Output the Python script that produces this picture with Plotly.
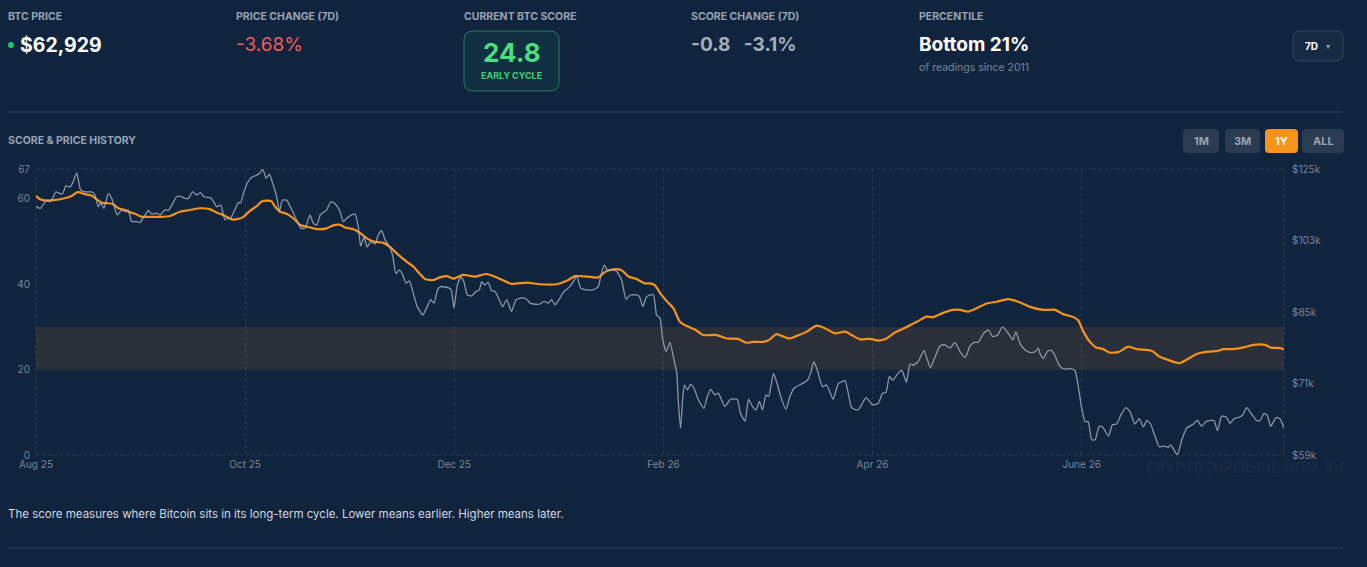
import numpy as np
import plotly.graph_objects as go

# =============================================================================
# Data
# =============================================================================
# x = days since the start of the 1Y window, price in $k, score 0-67
price_days = [
    0, 1.2, 3.1, 4.3, 5.8, 7.0, 7.8, 8.7, 9.9, 10.7, 11.9, 13.0, 14.3, 16.2, 17.2, 18.2, 18.9,
    19.8, 21.1, 22.1, 23.7, 25.0, 26.0, 26.9, 27.9, 29.4, 30.3, 31.5, 32.8, 33.7, 35.2, 36.2,
    37.6, 38.6, 39.9, 41.0, 42.0, 43.5, 44.4, 45.7, 46.9, 48.0, 49.0, 50.3, 51.2, 52.7, 53.9,
    55.1, 56.1, 56.8, 58.0, 59.0, 59.7, 60.5, 61.6, 62.9, 64.4, 65.3, 66.1, 66.8, 67.1, 68.1,
    68.7, 70.2, 71.0, 71.9, 73.1, 74.6, 76.0, 77.2, 78.5, 78.9, 79.9, 80.9, 81.9, 82.9, 83.8,
    84.8, 86.0, 87.2, 88.7, 89.6, 91.1, 93.0, 94.0, 94.7, 95.7, 96.6, 97.6, 98.9, 99.8, 100.8,
    101.8, 103.1, 104.0, 105.0, 106.0, 107.0, 107.9, 108.9, 109.9, 111.2, 112.8, 114.1, 115.1,
    116.1, 117.1, 118.0, 119.3, 121.0, 121.9, 122.9, 123.9, 124.8, 125.8, 127.1, 128.3, 129.3,
    130.0, 130.9, 131.9, 132.9, 133.9, 135.1, 136.1, 137.3, 138.7, 140.0, 141.7, 143.1, 144.1,
    145.1, 147.0, 148.2, 149.4, 150.4, 151.4, 152.6, 154.0, 155.7, 156.7, 157.7, 158.9, 160.6,
    162.4, 164.0, 164.7, 165.7, 166.6, 168.2, 169.4, 170.8, 172.1, 173.3, 175.2, 176.0, 177.0,
    177.9, 179.1, 180.1, 181.0, 182.0, 182.8, 183.8, 184.9, 185.9, 186.9, 187.3, 188.0, 188.6,
    189.1, 190.0, 190.9, 191.9, 193.2, 194.8, 195.8, 196.8, 198.0, 199.0, 200.9, 202.6, 204.5,
    205.5, 206.8, 207.8, 208.7, 210.0, 211.0, 211.9, 212.9, 213.7, 215.1, 216.0, 217.2, 218.7,
    219.9, 221.1, 223.3, 225.0, 225.9, 226.9, 227.9, 229.4, 230.6, 232.5, 234.0, 235.0, 236.0,
    236.9, 237.9, 239.8, 242.1, 244.0, 245.7, 246.9, 247.9, 248.9, 249.9, 251.5, 252.5, 253.2,
    253.9, 254.9, 255.9, 257.3, 259.0, 260.0, 260.9, 262.2, 263.7, 265.1, 266.6, 268.0, 269.5,
    271.0, 272.4, 273.6, 274.8, 276.5, 277.8, 279.0, 280.4, 281.9, 283.6, 284.9, 285.8, 287.0,
    288.5, 290.0, 291.4, 292.4, 292.8, 293.8, 295.0, 296.0, 296.9, 298.7, 300.1, 301.6, 303.0,
    304.0, 305.0, 306.0, 306.9, 307.9, 308.9, 310.1, 311.1, 312.8, 314.0, 315.2, 316.4, 317.9,
    319.1, 320.5, 321.8, 323.0, 324.0, 325.1, 326.1, 327.6, 329.0, 330.3, 330.9, 331.9, 332.9,
    334.2, 335.6, 337.6, 338.7, 340.0, 341.2, 342.6, 343.6, 344.6, 345.8, 347.1, 348.3, 349.4,
    350.7, 351.9, 353.1, 354.3, 356.0, 357.0, 358.2, 359.1, 360.1, 361.7, 362.8, 364.0,
]
price_k = [
    113.4, 112.7, 115.2, 114.7, 117.7, 117.2, 117.2, 119.6, 119.2, 120.6, 123.7, 118.3, 117.7,
    117.7, 116.7, 113.2, 114.4, 112.7, 117.2, 115.7, 110.8, 112.3, 111.8, 112.3, 108.9, 108.9,
    108.6, 110.3, 112.1, 111.1, 111.3, 110.8, 112.3, 112.1, 114.2, 116.2, 116.4, 115.7, 115.7,
    117.7, 116.7, 117.5, 116.2, 116.0, 115.7, 113.2, 113.7, 109.4, 109.9, 109.9, 112.3, 114.4,
    114.4, 117.2, 120.4, 122.3, 123.0, 123.7, 124.9, 123.0, 122.0, 123.3, 121.5, 116.2, 111.8,
    115.2, 115.2, 112.3, 109.4, 107.0, 107.0, 107.9, 110.8, 108.4, 107.9, 110.8, 111.5, 112.3,
    114.7, 114.2, 111.8, 108.9, 110.2, 111.1, 107.4, 102.1, 104.5, 101.8, 103.3, 102.7, 105.1,
    106.3, 103.8, 102.0, 99.7, 95.0, 95.9, 94.6, 92.6, 93.2, 90.6, 87.1, 85.2, 87.1, 88.7,
    87.9, 91.0, 91.8, 91.7, 91.2, 86.8, 92.2, 94.1, 93.0, 89.8, 89.6, 90.6, 91.0, 93.0, 92.2,
    92.8, 90.8, 90.6, 88.7, 87.1, 88.7, 86.0, 88.7, 89.1, 88.8, 87.9, 87.7, 87.7, 88.3, 87.9,
    88.7, 87.5, 88.8, 90.6, 91.8, 93.0, 94.4, 91.4, 91.0, 91.0, 91.8, 94.3, 97.2, 95.9, 95.9,
    95.5, 93.4, 88.8, 89.8, 89.8, 89.4, 87.1, 89.1, 89.8, 89.8, 85.2, 84.5, 79.8, 77.4, 79.3,
    76.3, 73.1, 68.2, 63.3, 68.2, 70.9, 70.0, 71.0, 70.3, 68.2, 66.7, 68.8, 70.1, 69.1, 69.4,
    67.0, 68.3, 68.3, 65.8, 64.5, 68.3, 67.3, 66.4, 67.9, 66.4, 69.1, 68.8, 73.1, 71.5, 68.8,
    66.5, 68.8, 70.3, 71.1, 71.8, 73.1, 75.4, 73.7, 70.6, 70.9, 68.3, 71.2, 71.5, 71.7, 69.4,
    66.8, 66.4, 68.6, 67.3, 67.6, 69.4, 69.5, 72.5, 71.8, 73.2, 73.7, 72.6, 71.4, 74.9, 74.7,
    75.4, 77.6, 75.7, 74.2, 76.3, 78.6, 78.8, 78.1, 79.3, 77.4, 76.2, 78.5, 79.3, 79.3, 81.3,
    81.9, 80.5, 80.8, 82.6, 81.2, 79.8, 81.5, 79.1, 77.7, 77.2, 77.4, 78.1, 77.0, 76.0, 77.4,
    77.7, 77.0, 74.4, 73.9, 74.0, 73.7, 70.6, 66.7, 64.4, 64.4, 61.4, 61.4, 63.6, 63.5, 62.0,
    63.9, 64.0, 65.5, 66.8, 66.1, 64.0, 64.9, 63.5, 64.6, 64.0, 62.4, 60.3, 60.4, 60.2, 60.6,
    59.8, 59.0, 61.4, 63.3, 64.0, 64.6, 63.6, 64.4, 64.6, 64.6, 62.9, 65.3, 65.2, 64.1, 64.9,
    65.1, 65.5, 66.8, 65.9, 64.6, 64.6, 65.8, 65.5, 63.6, 65.1, 64.9, 63.3,
]

score_days = [
    0, 1.2, 3.1, 5.1, 8.0, 10.4, 12.1, 14.3, 16.2, 17.7, 19.2, 20.6, 22.4, 24.0, 26.0, 26.9,
    28.9, 30.8, 33.2, 36.2, 39.1, 42.0, 44.9, 47.8, 50.7, 52.7, 54.6, 57.1, 59.0, 60.5, 62.4,
    64.4, 65.8, 67.5, 68.7, 69.7, 71.2, 73.1, 75.1, 77.0, 78.9, 80.9, 82.8, 84.8, 86.7, 88.7,
    90.1, 92.6, 94.0, 96.4, 98.4, 101.3, 103.3, 105.7, 108.1, 110.1, 112.0, 113.5, 115.9,
    117.8, 119.8, 121.7, 124.6, 128.0, 131.4, 134.4, 138.7, 143.1, 147.0, 151.9, 154.8, 157.2,
    160.6, 164.0, 166.0, 168.4, 170.8, 172.8, 175.2, 177.6, 179.1, 180.5, 182.0, 183.9, 185.9,
    187.8, 189.8, 192.2, 194.6, 198.5, 201.4, 204.8, 207.1, 209.2, 212.1, 214.1, 215.8, 217.5,
    219.7, 221.9, 224.8, 227.7, 230.1, 233.0, 236.0, 237.9, 240.3, 243.2, 245.7, 248.1, 250.5,
    253.5, 256.9, 259.8, 261.7, 264.6, 267.5, 269.5, 271.9, 274.4, 277.3, 280.2, 283.6, 286.5,
    289.9, 293.8, 297.2, 299.6, 302.6, 304.0, 305.5, 307.4, 309.2, 311.3, 313.1, 315.7, 318.6,
    321.0, 325.4, 327.8, 330.8, 333.5, 335.6, 338.7, 341.9, 344.8, 346.3, 349.2, 352.1, 355.1,
    358.5, 360.4, 362.4, 364.0,
]
score = [
    60.7, 59.9, 59.6, 59.7, 60.1, 60.7, 61.6, 61.1, 60.8, 59.9, 59.1, 59.0, 58.8, 57.8, 57.4,
    57.0, 56.5, 55.8, 55.8, 55.8, 56.0, 57.0, 57.4, 57.8, 57.6, 56.8, 56.2, 55.2, 55.3, 55.8,
    57.2, 58.3, 59.4, 59.6, 59.4, 58.2, 57.0, 56.5, 55.4, 53.9, 53.5, 53.1, 52.9, 53.1, 53.8,
    53.9, 53.3, 52.9, 52.3, 50.8, 50.0, 49.7, 48.7, 46.9, 45.3, 44.1, 42.4, 41.2, 41.0, 41.6,
    41.9, 41.3, 42.2, 41.8, 42.4, 41.6, 40.1, 40.4, 40.0, 40.0, 40.8, 41.9, 41.8, 41.6, 42.9,
    43.5, 43.3, 41.8, 41.2, 40.2, 40.2, 39.8, 38.0, 36.1, 34.4, 31.2, 30.2, 29.4, 28.1, 28.1,
    27.3, 27.2, 26.3, 26.5, 26.5, 27.1, 28.3, 27.9, 27.3, 27.9, 28.9, 30.3, 29.7, 28.5, 28.9,
    28.1, 27.1, 27.2, 26.8, 27.3, 28.7, 29.8, 31.2, 32.4, 32.3, 33.3, 34.0, 34.0, 33.6, 34.4,
    35.5, 35.9, 36.5, 35.9, 34.7, 34.0, 34.0, 33.0, 32.3, 31.5, 28.9, 26.5, 25.2, 24.8, 24.0,
    24.1, 25.4, 24.8, 24.4, 23.0, 22.1, 21.5, 22.3, 23.7, 24.2, 24.4, 24.8, 24.8, 25.2, 25.8,
    25.8, 25.1, 25.1, 24.8,
]

month_ticks = [0, 61, 122, 183, 244, 305]
month_labels = ["Aug 25", "Oct 25", "Dec 25", "Feb 26", "Apr 26", "June 26"]
score_ticks = [0, 20, 40, 60, 67]
price_labels = ["$59k", "$71k", "$85k", "$103k", "$125k"]
early_band = [20, 30]

# =============================================================================
# Styling helpers
# =============================================================================
W, H = 1367, 567
BG = "#10243e"
ORANGE = "#f7931a"
LABEL = "#98a3b3"
MUTED = "#7b8698"
FONT = "Inter, Roboto, sans-serif"


def px(x):
    return x / W


def py(y):
    return 1 - y / H


def text(x, y, s, size, color, bold=False, anchor="left"):
    if bold:
        s = f"<b>{s}</b>"
    if anchor == "left":
        x -= 2  # annotations carry a small inner padding
    return dict(x=px(x), y=py(y), xref="paper", yref="paper", text=s, showarrow=False,
                xanchor=anchor, yanchor="middle", font=dict(size=size, color=color, family=FONT))


def rounded(x0, y0, x1, y1, r, fill, line=None, width=1):
    a, b, c, d = px(x0), px(x1), py(y0), py(y1)
    rx, ry = r / W, r / H
    path = (f"M {a + rx},{c} L {b - rx},{c} Q {b},{c} {b},{c - ry} L {b},{d + ry} "
            f"Q {b},{d} {b - rx},{d} L {a + rx},{d} Q {a},{d} {a},{d + ry} "
            f"L {a},{c - ry} Q {a},{c} {a + rx},{c} Z")
    return dict(type="path", path=path, xref="paper", yref="paper", fillcolor=fill,
                line=dict(color=line or fill, width=width if line else 0), layer="above")


# =============================================================================
# Figure
# =============================================================================
fig = go.Figure()

fig.add_trace(go.Scatter(
    x=price_days, y=price_k, yaxis="y2", mode="lines",
    line=dict(color="rgba(168,180,196,0.8)", width=1.3, shape="spline", smoothing=0.5),
    hoverinfo="skip", showlegend=False,
))
fig.add_trace(go.Scatter(
    x=score_days, y=score, mode="lines",
    line=dict(color=ORANGE, width=2.2, shape="spline", smoothing=0.6),
    hoverinfo="skip", showlegend=False,
))

x_dom = [px(36), px(1284)]
y_dom = [py(455), py(169)]

fig.update_layout(
    width=W, height=H, autosize=False,
    margin=dict(l=0, r=0, t=0, b=0, pad=0, autoexpand=False),
    paper_bgcolor=BG, plot_bgcolor=BG,
    font=dict(family=FONT, color=MUTED, size=10),
    xaxis=dict(
        domain=x_dom, range=[0, 364], tickvals=month_ticks, ticktext=month_labels,
        showgrid=True, gridcolor="rgba(255,255,255,0.10)", griddash="dot", gridwidth=1,
        zeroline=False, showline=False, ticks="", ticklabelstandoff=2, automargin=False,
        tickfont=dict(size=10, color=MUTED),
    ),
    yaxis=dict(
        domain=y_dom, range=[0, 67], tickvals=score_ticks, showgrid=False, zeroline=False,
        showline=False, ticks="", ticklabelstandoff=5, automargin=False,
        tickfont=dict(size=10, color=MUTED),
    ),
    yaxis2=dict(
        overlaying="y", side="right", type="log",
        range=[np.log10(59), np.log10(125)],
        tickvals=np.geomspace(59, 125, len(price_labels)), ticktext=price_labels,
        showgrid=False, zeroline=False, showline=False, ticks="", ticklabelstandoff=7,
        automargin=False, tickfont=dict(size=10, color=MUTED),
    ),
)

shapes = [
    # early-cycle band
    dict(type="rect", xref="x domain", yref="y", x0=0, x1=1, y0=early_band[0], y1=early_band[1],
         fillcolor="#2a2f39", line=dict(width=0), layer="below"),
    # dotted frame of the chart
    dict(type="rect", xref="paper", yref="paper", x0=px(36), x1=px(1284), y0=py(455), y1=py(169),
         line=dict(color="rgba(255,255,255,0.10)", width=1, dash="dot"), layer="below"),
    # dividers
    dict(type="line", xref="paper", yref="paper", x0=px(8), x1=px(1343), y0=py(112), y1=py(112),
         line=dict(color="#2c3e56", width=1)),
    dict(type="line", xref="paper", yref="paper", x0=px(8), x1=px(1343), y0=py(548), y1=py(548),
         line=dict(color="#2c3e56", width=1)),
    # score badge
    rounded(464, 31, 559, 91, 9, "rgba(34,197,94,0.07)", "rgba(74,222,128,0.45)", 1),
    # 7D dropdown
    rounded(1293, 31, 1343, 61, 7, "rgba(255,255,255,0.03)", "#34465e", 1),
    # range buttons
    rounded(1183, 129, 1219, 153, 4, "#2a3b52"),
    rounded(1225, 129, 1260, 153, 4, "#2a3b52"),
    rounded(1265, 129, 1298, 153, 4, ORANGE),
    rounded(1302, 129, 1344, 153, 4, "#2a3b52"),
    # live dot
    dict(type="circle", xref="paper", yref="paper", x0=px(8), x1=px(14), y0=py(42), y1=py(48),
         fillcolor="#22c55e", line=dict(width=0)),
]
fig.update_layout(shapes=shapes)

annotations = [
    text(8, 17, "BTC PRICE", 10.5, LABEL, bold=True),
    text(20, 45, "$62,929", 19.5, "#ffffff", bold=True),
    text(236, 17, "PRICE CHANGE (7D)", 10.5, LABEL, bold=True),
    text(236, 45, "-3.68%", 19, "#f25c5c"),
    text(464, 17, "CURRENT BTC SCORE", 10.5, LABEL, bold=True),
    text(511.5, 53, "24.8", 26, "#4ade80", bold=True, anchor="center"),
    text(511.5, 75, "EARLY CYCLE", 9, "#3fcf74", bold=True, anchor="center"),
    text(691, 17, "SCORE CHANGE (7D)", 10.5, LABEL, bold=True),
    text(691, 45, "-0.8&nbsp;&nbsp;&nbsp;-3.1%", 19, "#a4aebb", bold=True),
    text(919, 17, "PERCENTILE", 10.5, LABEL, bold=True),
    text(919, 45, "Bottom 21%", 19, "#ffffff", bold=True),
    text(919, 67, "of readings since 2011", 10.5, MUTED),
    text(1305, 46, "7D", 10, "#ffffff", bold=True),
    text(1328, 46, "▾", 8, LABEL, anchor="center"),
    text(8, 141, "SCORE &amp; PRICE HISTORY", 10.5, LABEL, bold=True),
    text(1201, 141, "1M", 11, LABEL, bold=True, anchor="center"),
    text(1242.5, 141, "3M", 11, LABEL, bold=True, anchor="center"),
    text(1281.5, 141, "1Y", 11, "#ffffff", bold=True, anchor="center"),
    text(1323, 141, "ALL", 11, LABEL, bold=True, anchor="center"),
    text(1245, 467, "CRYPTOSUPERHUB.COM.AU", 14, "rgba(255,255,255,0.045)", bold=True,
         anchor="center"),
    text(8, 514, "The score measures where Bitcoin sits in its long-term cycle. "
                 "Lower means earlier. Higher means later.", 11.5, "#d2d8e0"),
]
fig.update_layout(annotations=annotations)

fig.write_html(
    "out.html",
    config={"displayModeBar": False},
    post_script="document.body.style.margin='0';document.body.style.overflow='hidden';",
)
